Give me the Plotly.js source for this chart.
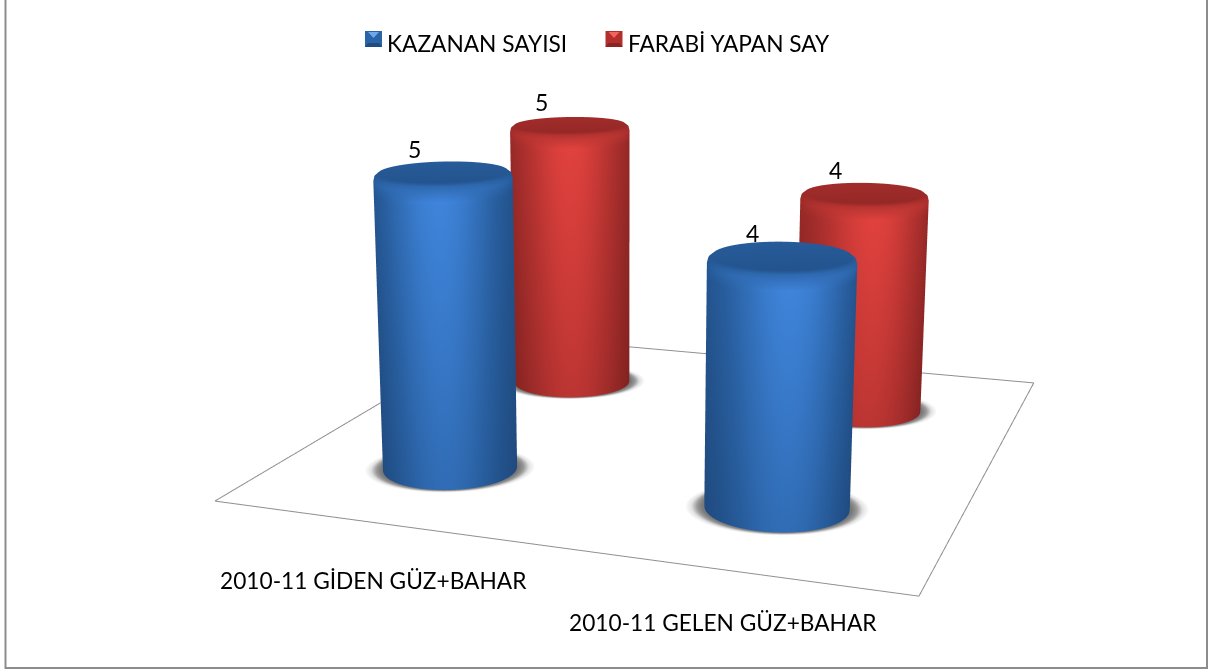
<!DOCTYPE html>
<html><head><meta charset="utf-8"><script src="https://cdn.plot.ly/plotly-3.0.1.min.js"></script>
<style>html,body{margin:0;padding:0;background:#fff;overflow:hidden;width:1208px;height:669px}
#wrap{position:absolute;left:0;top:0;width:1208px;height:669px;overflow:hidden}
#c{position:absolute;left:-226px;top:-448px;width:1434px;height:1552px}</style></head><body><div id="wrap"><div id="c"></div></div>
<script>
const categories=["2010-11 GİDEN GÜZ+BAHAR","2010-11 GELEN GÜZ+BAHAR"];
const seriesNames=["KAZANAN SAYISI","FARABİ YAPAN SAYISI"];
const kazanan=[5,4];
const farabi=[5,4];
const series=[kazanan,farabi];
const seriesRamp=[
  [[0,'#17365e'],[.45,'#265a98'],[1,'#3f85dc']],
  [[0,'#5e1716'],[.45,'#a02c2a'],[1,'#e2423e']]];
const iconColors=[['#2a64a8','#6ea8e8','#1f4b80'],['#b32f2c','#f0655e','#8a2321']];
const FONT='Lato, Carlito, sans-serif';
const W=1434,H=1552,OX=226,OY=448;
const px=x=>(x+OX)/W, py=y=>1-(y+OY)/H;
const rad=.2, dx=.01, dy=-.006;
const right=[.9183,.3954], toward=[.3998,-.9166];
const lit={ambient:1,diffuse:0,specular:0,roughness:1,fresnel:0};
function cyl(cx,cy,h,ramp){
  const th=[];for(let i=0;i<=96;i++)th.push(i/96*2*Math.PI);
  const rows=[];
  [0,.12,.25,.4,.55,.7,.85,.93].forEach(f=>rows.push({r:1,z:h*f,k:'s',g:.68+.32*f}));
  rows.push({r:1,z:h-.3,k:'s',g:1});
  rows.push({r:1,z:h-.12,k:'rim',a:.75});
  rows.push({r:.985,z:h-.05,k:'rim',a:.5});
  rows.push({r:.93,z:h,k:'cap'});
  rows.push({r:.6,z:h,k:'cap'});
  rows.push({r:0,z:h,k:'cap'});
  const X=[],Y=[],Z=[],C=[];
  rows.forEach(o=>{
    X.push(th.map(t=>cx+rad*o.r*Math.cos(t)));
    Y.push(th.map(t=>cy+rad*o.r*Math.sin(t)));
    Z.push(th.map(()=>o.z));
    C.push(th.map(t=>{
      const u=Math.cos(t)*right[0]+Math.sin(t)*right[1];
      const w=Math.cos(t)*toward[0]+Math.sin(t)*toward[1];
      if(o.k==='s'){const I=Math.exp(-Math.pow((u+.03)/.82,2));return (.2+.8*I)*o.g;}
      if(o.k==='rim'){return .42+o.a*.45*Math.max(0,w)-.06*Math.max(0,-w);}
      return .42-.05*w*o.r;
    }));
  });
  return {type:'surface',x:X,y:Y,z:Z,surfacecolor:C,cmin:0,cmax:1,colorscale:ramp,showscale:false,
    lighting:lit,hoverinfo:'skip',showlegend:false};
}
function shadow(cx,cy){
  const th=[];for(let i=0;i<=72;i++)th.push(i/72*2*Math.PI);
  const ru=[.9,1.03,1.1,1.18,1.27], rv=[.9,1.0,1.03,1.07,1.11], sh=[0,.1,.4,.75,1];
  const pos=(f,g,t,k)=>rad*(f*Math.cos(t)*right[k]+g*Math.sin(t)*toward[k]);
  return {type:'surface',
    x:ru.map((f,i)=>th.map(t=>cx+pos(f,rv[i],t,0))),
    y:ru.map((f,i)=>th.map(t=>cy+pos(f,rv[i],t,1))),
    z:ru.map(()=>th.map(()=>.01)),
    surfacecolor:ru.map((f,i)=>th.map(()=>sh[i])),cmin:0,cmax:1,
    colorscale:[[0,'#707070'],[.4,'#9a9a9a'],[.75,'#e2e2e2'],[1,'#ffffff']],showscale:false,
    lighting:lit,hoverinfo:'skip',showlegend:false};
}
const traces=[];
traces.push({type:'scatter3d',mode:'lines',x:[0,2,2,0,0],y:[0,0,2,2,0],z:[0,0,0,0,0],
  line:{color:'#8f8f8f',width:2},hoverinfo:'skip',showlegend:false});
const annots=[];
series.forEach((vals,s)=>vals.forEach((v,c)=>{
  traces.push(shadow(c+.5+dx,s+.5+dy));
  traces.push(cyl(c+.5+dx,s+.5+dy,v,seriesRamp[s]));
  annots.push({x:c+.5,y:s+.5,z:v,text:String(v),showarrow:false,xshift:-26,yshift:22,
    font:{family:FONT,size:23,color:'#000'}});
}));
seriesNames.forEach((n,s)=>traces.push({type:'scatter',mode:'markers',x:[null],y:[null],name:n,
  marker:{symbol:'square',size:14,color:'rgba(0,0,0,0)'},showlegend:true}));
const iconShapes=[];
[365,605.5].forEach((x0,s)=>{
  const [c0,c1,c2]=iconColors[s], y0=31,y1=47,x1=x0+17,m=x0+8.5;
  const P=(pts,c)=>iconShapes.push({type:'path',xref:'paper',yref:'paper',
    path:'M '+pts.map(p=>px(p[0])+' '+py(p[1])).join(' L ')+' Z',fillcolor:c,line:{width:0}});
  P([[x0,y0],[x1,y0],[x1,y1],[x0,y1]],c0);
  P([[x0+3,y0+1],[x1-3,y0+1],[m,y0+7]],c1);
  P([[x0,y1],[x1,y1],[x1-3,y1-4],[x0+3,y1-4]],c2);
});
const layout={width:W,height:H,margin:{l:0,r:0,t:0,b:0,pad:0},paper_bgcolor:'rgba(0,0,0,0)',plot_bgcolor:'rgba(0,0,0,0)',
  xaxis:{visible:false},yaxis:{visible:false},
  showlegend:true,
  legend:{orientation:'h',x:px(347),y:py(22),xanchor:'left',yanchor:'top',bgcolor:'rgba(0,0,0,0)',entrywidth:196,entrywidthmode:'pixels',
    font:{family:FONT,size:22.7,color:'#000'},itemclick:false,itemdoubleclick:false},
  scene:{domain:{x:[0,1],y:[0,1]},aspectmode:'manual',aspectratio:{x:1,y:1.018,z:.538},
    xaxis:{visible:false,range:[0,2]},yaxis:{visible:false,range:[0,2]},zaxis:{visible:false,range:[0,6]},
    camera:{eye:{x:.8813,y:-2.678,z:.6156},center:{x:-.2043,y:-.1882,z:-.0654},up:{x:-.0805,y:.2302,z:.9698},projection:{type:'perspective'}},
    annotations:annots},
  annotations:[
    {xref:'paper',yref:'paper',x:px(373.5),y:py(580),xanchor:'center',yanchor:'middle',text:categories[0],showarrow:false,font:{family:FONT,size:22.7,color:'#000'}},
    {xref:'paper',yref:'paper',x:px(723),y:py(622),xanchor:'center',yanchor:'middle',text:categories[1],showarrow:false,font:{family:FONT,size:22.7,color:'#000'}}],
  shapes:[{type:'path',xref:'paper',yref:'paper',
    path:`M ${px(5.5)} ${py(0)} L ${px(5.5)} ${py(668)} L ${px(1207)} ${py(668)} L ${px(1207)} ${py(0)}`,
    line:{color:'#8c8c8c',width:2}}].concat(iconShapes)
};
Plotly.newPlot('c',traces,layout,{displayModeBar:false});
</script></body></html>
